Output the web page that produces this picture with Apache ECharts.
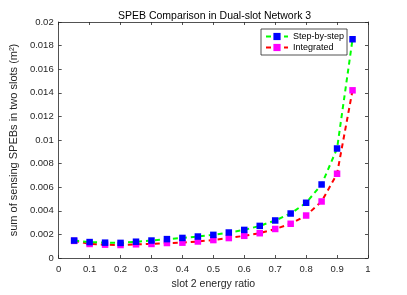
<!DOCTYPE html>
<html>
<head>
<meta charset="utf-8">
<script src="https://cdn.jsdelivr.net/npm/echarts@6/dist/echarts.min.js"></script>
<style>html,body{margin:0;padding:0;background:#fff}#c{width:407px;height:295px}</style>
</head>
<body>
<div id="c"></div>
<script>
const titleText = 'SPEB Comparison in Dual-slot Network 3';
const xLabel = 'slot 2 energy ratio';
const yLabel = 'sum of sensing SPEBs in two slots (m²)';
const seriesNames = ['Step-by-step', 'Integrated'];
const ratios = [0.05,0.10,0.15,0.20,0.25,0.30,0.35,0.40,0.45,0.50,0.55,0.60,0.65,0.70,0.75,0.80,0.85,0.90,0.95];
const stepByStep = [0.00148,0.00135,0.00130,0.00128,0.00138,0.00148,0.00160,0.00170,0.00182,0.00196,0.00216,0.00238,0.00272,0.00318,0.00377,0.00468,0.00623,0.00928,0.01854];
const integrated = [0.00145,0.00119,0.00113,0.00110,0.00116,0.00119,0.00127,0.00130,0.00140,0.00152,0.00169,0.00188,0.00210,0.00246,0.00290,0.00360,0.00479,0.00714,0.01421];
const xTicks = {min:0, max:1, interval:0.1};
const yTicks = {min:0, max:0.02, interval:0.002};

const axisColor = '#262626';
const fontFamily = 'Liberation Sans, Arial, sans-serif';
const fmt = v => String(+v.toFixed(4));

function mkX(pos, showLabel, name) {
  return {
    type:'value', position:pos, min:xTicks.min, max:xTicks.max, interval:xTicks.interval,
    name: name || '', nameLocation:'middle', nameGap:21,
    nameTextStyle:{color:axisColor, fontSize:10.5, fontFamily},
    axisLine:{show:true, onZero:false, lineStyle:{color:axisColor, width:0.8}},
    axisTick:{show:true, inside:true, length:3, lineStyle:{color:axisColor, width:0.8}},
    axisLabel:{show:showLabel, color:axisColor, fontSize:9.5, fontFamily, margin:6, formatter:fmt},
    splitLine:{show:false}
  };
}
function mkY(pos, showLabel, name) {
  return {
    type:'value', position:pos, min:yTicks.min, max:yTicks.max, interval:yTicks.interval,
    name: name || '', nameLocation:'middle', nameGap:35, nameRotate:90,
    nameTextStyle:{color:axisColor, fontSize:11, fontFamily},
    axisLine:{show:true, onZero:false, lineStyle:{color:axisColor, width:0.8}},
    axisTick:{show:true, inside:true, length:3, lineStyle:{color:axisColor, width:0.8}},
    axisLabel:{show:showLabel, color:axisColor, fontSize:9.5, fontFamily, margin:5, formatter:fmt},
    splitLine:{show:false}
  };
}

const chart = echarts.init(document.getElementById('c'), null, {renderer:'canvas'});
chart.setOption({
  animation:false,
  backgroundColor:'#fff',
  title:{text:titleText, left:113, top:6, textStyle:{color:'#000', fontSize:10.5, fontWeight:'normal', fontFamily}},
  grid:{left:53, right:39, top:22, bottom:32.4, containLabel:false},
  legend:{
    data:seriesNames, orient:'vertical', left:261, top:29, padding:[3,3,3,4], itemGap:2,
    itemWidth:22, itemHeight:9, borderColor:axisColor, borderWidth:0.8, backgroundColor:'#fff',
    textStyle:{color:'#000', fontSize:9, fontFamily}
  },
  xAxis:[mkX('bottom', true, xLabel), mkX('top', false)],
  yAxis:[mkY('left', true, yLabel), mkY('right', false)],
  series:[
    {name:seriesNames[0], type:'line', xAxisIndex:0, yAxisIndex:0, z:5,
     data: ratios.map((r,i)=>[r, stepByStep[i]]),
     symbol:'rect', symbolSize:6.5,
     lineStyle:{color:'#00ff00', width:2, type:[5,4]},
     itemStyle:{color:'#0000ff', borderColor:'#0000ff', borderWidth:0}},
    {name:seriesNames[1], type:'line', xAxisIndex:0, yAxisIndex:0, z:4,
     data: ratios.map((r,i)=>[r, integrated[i]]),
     symbol:'rect', symbolSize:6.5,
     lineStyle:{color:'#ff0000', width:2, type:[5,4]},
     itemStyle:{color:'#ff00ff', borderColor:'#ff00ff', borderWidth:0}}
  ]
});
</script>
</body>
</html>
